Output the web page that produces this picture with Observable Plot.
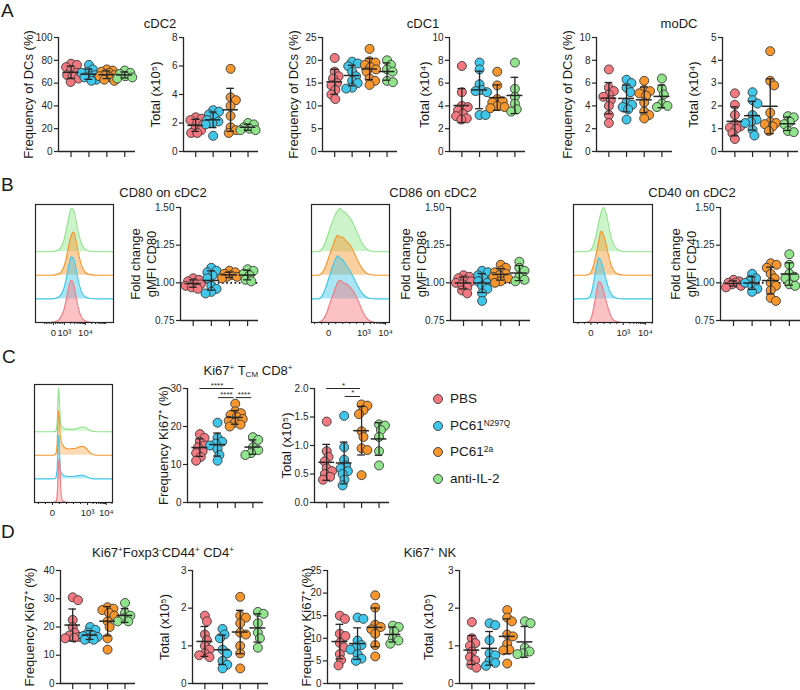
<!DOCTYPE html>
<html><head><meta charset="utf-8">
<script src="https://cdn.jsdelivr.net/npm/d3@7"></script>
<script src="https://cdn.jsdelivr.net/npm/@observablehq/plot@0.6"></script>
<style>
body{margin:0;background:#fff;font-family:Arial,"Liberation Sans",Helvetica,sans-serif;color:#1a1a1a;}
#fig{position:relative;width:800px;height:690px;overflow:hidden;background:#fff;}
.letter{position:absolute;font-size:19px;line-height:1.1;}
.ttl{position:absolute;font-size:13px;line-height:1;transform:translate(-50%,-50%);white-space:nowrap;}
.ttl sup,.leg sup{font-size:62%;vertical-align:0.55em;line-height:0;}
.ttl sub{font-size:62%;vertical-align:-0.3em;line-height:0;}
.leg{position:absolute;font-size:13.5px;line-height:1;white-space:nowrap;transform:translateY(-50%);}
.sw{position:absolute;width:8px;height:8px;border-radius:50%;border:1px solid #444;transform:translate(-50%,-50%);}
</style></head>
<body><div id="fig"></div>
<script>
// ---------- groups ----------
const groups = ["PBS", "PC61N297Q", "PC61 2a", "anti-IL-2"];
const groupColors = ["#f4787f", "#3ec7ea", "#f7962c", "#90e58c"];

// ---------- A: DC subsets ----------
const cdc2Freq = [[77, 76, 74, 71, 69, 67, 66, 64, 61], [76, 72, 70, 69, 67, 66, 65, 63, 62], [72, 71, 70, 69, 68, 67, 66, 65, 63, 62], [71, 69, 68, 66, 65, 64]];
const cdc2Total = [[2.4, 2.3, 2.2, 2.0, 1.9, 1.6, 1.5, 1.3, 1.3], [2.9, 2.8, 2.6, 2.4, 2.2, 2.1, 2.0, 1.9, 1.1], [5.8, 3.8, 3.6, 3.2, 2.5, 1.7, 1.5, 1.3], [2.0, 1.9, 1.7, 1.6, 1.5, 1.5]];
const cdc1Freq = [[20.5, 17.5, 16.5, 16.0, 15.0, 14.5, 13.5, 12.5, 11.5], [19.7, 19.3, 18.7, 17.5, 16.5, 15.5, 15.0, 14.0, 13.8], [22.5, 19.8, 19.5, 19.0, 18.5, 18.0, 17.5, 16.0, 15.5, 14.6], [20.0, 19.0, 18.0, 17.5, 15.5, 15.2]];
const cdc1Total = [[7.5, 5.2, 4.0, 3.9, 3.6, 3.3, 3.1, 2.9, 2.8], [7.8, 7.2, 5.9, 5.4, 5.3, 5.2, 3.2, 3.2], [7.0, 5.8, 4.6, 4.4, 4.3, 4.0, 3.9, 3.8], [7.8, 5.5, 4.8, 4.2, 3.7, 3.5]];
const modcFreq = [[7.2, 5.6, 5.3, 5.0, 4.8, 4.5, 4.0, 3.2, 2.5], [6.3, 6.0, 5.6, 5.2, 4.3, 4.1, 3.9, 3.7, 2.8], [6.2, 5.4, 5.3, 5.1, 4.9, 4.3, 3.5, 3.2, 2.9], [6.4, 5.5, 5.0, 4.2, 4.0, 3.9]];
const modcTotal = [[2.55, 2.05, 1.6, 1.2, 1.1, 1.05, 1.0, 0.8, 0.55], [2.6, 2.25, 2.1, 1.6, 1.4, 1.3, 1.25, 0.95, 0.7], [4.4, 3.1, 2.9, 1.7, 1.3, 1.25, 1.2, 1.1, 0.9], [1.55, 1.5, 1.3, 1.2, 0.9, 0.85]];

// ---------- B: activation markers (fold change gMFI) ----------
const cd80Fold = [[1.03, 1.02, 1.01, 1.00, 0.99, 0.98, 0.97, 0.96], [1.10, 1.08, 1.07, 1.05, 1.03, 0.98, 0.96, 0.94, 0.93], [1.08, 1.07, 1.06, 1.05, 1.04, 1.04, 1.03], [1.09, 1.08, 1.06, 1.05, 1.02, 1.01]];
const cd86Fold = [[1.05, 1.04, 1.03, 1.02, 1.01, 1.00, 0.99, 0.97, 0.95, 0.93], [1.08, 1.07, 1.05, 1.03, 1.01, 1.00, 0.98, 0.96, 0.93, 0.88], [1.12, 1.10, 1.08, 1.07, 1.06, 1.05, 1.04, 1.03, 1.01, 1.00], [1.14, 1.10, 1.08, 1.04, 1.02, 1.01]];
const cd40Fold = [[1.02, 1.01, 1.00, 1.00, 0.99, 0.98, 0.97], [1.06, 1.03, 1.02, 1.00, 0.98, 0.96, 0.94], [1.13, 1.12, 1.10, 1.06, 1.03, 1.00, 0.98, 0.95, 0.90, 0.88], [1.19, 1.12, 1.06, 1.04, 1.03, 0.99, 0.98]];

// ---------- C: Ki67+ TCM CD8+ ----------
const ki67Cd8Freq = [[18, 17, 16, 15, 14.5, 13.5, 13, 12, 11], [21, 17, 16, 15.5, 15, 14, 12.5, 11], [26, 24, 23.5, 23, 22.5, 22, 21.5, 21, 20.5, 20], [17.2, 16.5, 14.5, 13.8, 13, 12.5]];
const ki67Cd8Total = [[1.42, 0.9, 0.8, 0.72, 0.6, 0.55, 0.5, 0.45, 0.4], [1.52, 0.97, 0.75, 0.65, 0.6, 0.55, 0.5, 0.4, 0.3], [1.72, 1.70, 1.62, 1.55, 1.25, 1.15, 0.95, 0.92, 0.48], [1.37, 1.35, 1.27, 1.15, 0.9, 0.65]];
const sigCd8Freq = [{from: 1, to: 3, level: 30, label: "****"}, {from: 2, to: 3, level: 27.6, label: "****"}, {from: 3, to: 4, level: 27.6, label: "****"}];
const sigCd8Total = [{from: 1, to: 3, level: 2.0, label: "*"}, {from: 2, to: 3, level: 1.86, label: "*"}];

// ---------- D: Ki67+ CD4+ and NK ----------
const ki67Cd4Freq = [[30.5, 29.5, 22.5, 20, 18, 17, 16.5, 16.2, 16], [20, 19, 18, 17, 16.8, 16.5, 16, 15.5, 15.5], [27, 26.5, 26, 25, 24, 22, 20, 16, 12], [28.5, 25, 24, 23, 22, 22]];
const ki67Cd4Total = [[1.8, 1.65, 1.3, 1.15, 1.0, 0.9, 0.8, 0.75, 0.7], [1.45, 1.3, 1.2, 0.9, 0.8, 0.6, 0.5, 0.4], [2.3, 1.8, 1.75, 1.6, 1.35, 1.3, 1.0, 0.8, 0.4], [1.9, 1.85, 1.6, 1.35, 1.2, 0.95]];
const ki67NkFreq = [[15, 14.3, 11, 10.5, 9, 8, 6.5, 5.2, 4], [14.6, 14.3, 9.5, 8.5, 8, 7.5, 6.5, 5.5, 5], [19.5, 16.8, 13, 12.5, 12, 11, 8.5, 6], [12.8, 12.5, 11.5, 10, 9.5, 8.8]];
const ki67NkTotal = [[1.63, 1.2, 1.07, 1.0, 0.85, 0.7, 0.62, 0.5, 0.42], [1.6, 1.55, 1.15, 0.8, 0.75, 0.6, 0.55, 0.47], [1.95, 1.75, 1.65, 1.3, 1.25, 1.05, 0.9, 0.88, 0.53], [1.65, 1.6, 0.95, 0.85, 0.8, 0.78]];

// ---------- histograms (channel position 0-100 across the plot; density per group: PBS, N297Q, 2a, anti-IL-2) ----------
const cd80HistX = [0, 20, 28, 33, 37, 40, 43, 46, 49, 52, 55, 59, 64, 70, 80, 100];
const cd80Hist = [
  [0, 0, 0.06, 0.25, 0.6, 1.05, 1.55, 1.79, 1.6, 1.1, 0.6, 0.22, 0.06, 0.01, 0, 0],
  [0, 0, 0.05, 0.2, 0.5, 0.95, 1.45, 1.78, 1.7, 1.25, 0.75, 0.3, 0.08, 0.02, 0, 0],
  [0, 0, 0.04, 0.15, 0.42, 0.8, 1.3, 1.7, 1.83, 1.45, 0.95, 0.42, 0.12, 0.03, 0, 0],
  [0, 0, 0.05, 0.2, 0.55, 1.0, 1.5, 1.84, 1.75, 1.3, 0.8, 0.35, 0.1, 0.02, 0, 0]];
const cd80Ticks = [23, 37, 64];
const cd86HistX = [0, 8, 12, 16, 20, 24, 28, 31, 34, 37, 40, 43, 46, 50, 54, 58, 62, 66, 70, 75, 82, 100];
const cd86Hist = [
  [0, 0, 0.04, 0.18, 0.45, 0.85, 1.2, 1.5, 1.72, 1.79, 1.7, 1.66, 1.6, 1.48, 1.3, 1.05, 0.75, 0.45, 0.22, 0.06, 0, 0],
  [0, 0, 0.06, 0.28, 0.65, 1.05, 1.45, 1.7, 1.83, 1.7, 1.66, 1.5, 1.36, 1.15, 0.9, 0.62, 0.38, 0.2, 0.08, 0.02, 0, 0],
  [0, 0, 0.05, 0.22, 0.55, 0.95, 1.3, 1.58, 1.7, 1.6, 1.62, 1.5, 1.4, 1.25, 1.0, 0.72, 0.45, 0.25, 0.1, 0.03, 0, 0],
  [0, 0, 0.05, 0.25, 0.6, 1.0, 1.35, 1.6, 1.76, 1.84, 1.7, 1.68, 1.55, 1.4, 1.15, 0.85, 0.55, 0.3, 0.13, 0.04, 0, 0]];
const cd86Ticks = [22, 67, 95];
const cd40HistX = [0, 15, 20, 23, 26, 29, 32, 35, 38, 41, 44, 47, 51, 56, 62, 75, 100];
const cd40Hist = [
  [0, 0, 0.05, 0.25, 0.7, 1.25, 1.72, 1.65, 1.35, 0.95, 0.6, 0.3, 0.1, 0.03, 0, 0, 0],
  [0, 0, 0.06, 0.3, 0.8, 1.35, 1.74, 1.6, 1.25, 0.85, 0.5, 0.25, 0.08, 0.02, 0, 0, 0],
  [0, 0, 0.04, 0.18, 0.5, 0.95, 1.45, 1.87, 1.7, 1.35, 0.9, 0.5, 0.2, 0.05, 0.01, 0, 0],
  [0, 0, 0.03, 0.12, 0.35, 0.75, 1.25, 1.65, 1.87, 1.65, 1.2, 0.7, 0.3, 0.08, 0.01, 0, 0]];
const cd40Ticks = [22, 63, 91];
const ki67HistX = [0, 24, 27, 29, 30, 31, 32, 33, 34, 36, 39, 43, 48, 53, 58, 62, 66, 70, 74, 80, 100];
const ki67Hist = [
  [0, 0, 0.02, 0.25, 0.95, 1.6, 1.87, 1.2, 0.4, 0.08, 0.02, 0, 0, 0, 0, 0, 0, 0, 0, 0, 0],
  [0, 0, 0.03, 0.4, 1.35, 1.87, 1.2, 0.5, 0.28, 0.18, 0.12, 0.1, 0.1, 0.12, 0.14, 0.15, 0.1, 0.05, 0.01, 0, 0],
  [0, 0, 0.05, 0.45, 1.4, 1.9, 1.5, 0.9, 0.6, 0.45, 0.32, 0.27, 0.28, 0.3, 0.36, 0.38, 0.3, 0.15, 0.04, 0, 0],
  [0, 0, 0.02, 0.3, 1.2, 1.87, 1.3, 0.55, 0.3, 0.18, 0.12, 0.1, 0.1, 0.12, 0.17, 0.2, 0.17, 0.08, 0.02, 0, 0]];
const ki67Ticks = [23, 68, 92];
const histTickLabels = ["0", "10³", "10⁴"];

// ---------- layout ----------
const fig = document.getElementById("fig");
const FONT = "Arial, 'Liberation Sans', Helvetica, sans-serif";

function place(svg, left, top) {
  svg.style.position = "absolute";
  svg.style.left = left + "px";
  svg.style.top = top + "px";
  fig.appendChild(svg);
}

// compact beeswarm: pixel offsets, dots may overlap a little and stay within +-maxOff
function swarm(vals, pxPerUnit, d, maxOff) {
  const order = vals.map((v, i) => i).sort((a, b) => vals[b] - vals[a]);
  const placed = [], off = new Array(vals.length).fill(0);
  for (const i of order) {
    const y = vals[i] * pxPerUnit;
    const cands = [0];
    for (const p of placed) {
      const dy = y - p.y;
      if (Math.abs(dy) < d) { const dx = Math.sqrt(d * d - dy * dy); cands.push(p.x + dx, p.x - dx); }
    }
    cands.sort((a, b) => Math.abs(a) - Math.abs(b));
    let best = null;
    for (const c of cands) {
      if (Math.abs(c) > maxOff) continue;
      if (placed.every(p => (p.x - c) ** 2 + (p.y - y) ** 2 >= d * d - 0.01)) { best = c; break; }
    }
    if (best === null) {
      // least crowded position within the allowed band
      let bestScore = Infinity;
      for (let c = -maxOff; c <= maxOff; c += 1) {
        const score = d3.min(placed, p => (p.x - c) ** 2 + (p.y - y) ** 2);
        if (-score < bestScore) { bestScore = -score; best = c; }
      }
    }
    placed.push({x: best, y}); off[i] = best;
  }
  return off;
}

function dotPlot(p) {
  const ml = 50, mr = 8, mt = 10, mb = 12;
  const innerW = p.right - p.left, innerH = p.bottom - p.top;
  const xDom = [0.3, 4.6];
  const pxPerX = innerW / (xDom[1] - xDom[0]);
  const pxPerY = innerH / (p.domain[1] - p.domain[0]);
  const pts = [], stats = [];
  p.values.forEach((vals, gi) => {
    const off = swarm(vals, pxPerY, 6, 7.5);
    vals.forEach((v, i) => pts.push({g: gi, x: gi + 1 + off[i] / pxPerX, v}));
    const m = d3.mean(vals), s = d3.deviation(vals);
    stats.push({x: gi + 1, mean: m, lo: m - s, hi: m + s});
  });
  const ink = "#262626";
  const marks = [
    Plot.axisY({ticks: p.ticks, tickSize: 4, tickPadding: 2, tickFormat: p.fmt, label: null, fontSize: 10, strokeWidth: 1.2}),
    Plot.axisX({ticks: [1, 2, 3, 4], tickSize: 6, tickFormat: () => "", label: null, strokeWidth: 1.2}),
    Plot.text([p.label], {frameAnchor: "left", rotate: -90, dx: p.labelDx, fontSize: 13, lineHeight: 1.25, textAnchor: "middle", lineAnchor: "middle", fill: "#1a1a1a"})
  ];
  if (p.ref != null) marks.push(Plot.ruleY([p.ref], {stroke: "#111", strokeWidth: 1.8, strokeDasharray: "1.6,2.6"}));
  groups.forEach((g, gi) => {
    marks.push(Plot.dot(pts.filter(d => d.g === gi), {x: "x", y: "v", r: 4.5, fill: groupColors[gi], stroke: "#3a3a3a", strokeWidth: 0.9}));
  });
  marks.push(
    Plot.ruleX(stats, {x: "x", y1: "lo", y2: "hi", stroke: ink, strokeWidth: 1.3}),
    Plot.ruleY(stats, {y: "hi", x1: d => d.x - 0.22, x2: d => d.x + 0.22, stroke: ink, strokeWidth: 1.3}),
    Plot.ruleY(stats, {y: "lo", x1: d => d.x - 0.22, x2: d => d.x + 0.22, stroke: ink, strokeWidth: 1.3}),
    Plot.ruleY(stats, {y: "mean", x1: d => d.x - 0.45, x2: d => d.x + 0.45, stroke: ink, strokeWidth: 1.5})
  );
  if (p.sig) {
    const s = p.sig.map(c => ({x1: c.from + (c.to - c.from > 1 ? 0 : 0.06), x2: c.to - 0.06, level: c.level, label: c.label}));
    marks.push(
      Plot.ruleY(s, {y: "level", x1: "x1", x2: "x2", stroke: ink, strokeWidth: 1}),
      Plot.text(s, {x: d => (d.x1 + d.x2) / 2, y: "level", text: "label", dy: -1, lineAnchor: "bottom", fontSize: 8, fill: ink})
    );
  }
  marks.push(
    Plot.ruleY([p.domain[0]], {stroke: ink, strokeWidth: 1.3}),
    Plot.ruleX([xDom[0]], {stroke: ink, strokeWidth: 1.3})
  );
  const svg = Plot.plot({
    width: ml + innerW + mr, height: mt + innerH + mb,
    marginLeft: ml, marginRight: mr, marginTop: mt, marginBottom: mb,
    x: {domain: xDom}, y: {domain: p.domain},
    style: {background: "none", fontFamily: FONT, fontSize: "10px", color: "#262626", overflow: "visible"},
    marks
  });
  place(svg, p.left - ml, p.top - mt);
}

function histPlot(h) {
  const ml = 1, mr = 1, mt = 1, mb = 22;
  const w = h.right - h.left, ht = h.bottom - h.top;
  const marks = [];
  for (let gi = 3; gi >= 0; gi--) {
    const rows = h.x.map((x, i) => ({x, base: gi, top: gi + h.dens[gi][i]}));
    marks.push(Plot.areaY(rows, {x: "x", y1: "base", y2: "top", fill: groupColors[gi], fillOpacity: h.fillOpacity, curve: "monotone-x"}));
    marks.push(Plot.lineY(rows, {x: "x", y: "top", stroke: groupColors[gi], strokeWidth: 1.1, curve: "monotone-x"}));
  }
  // minor ticks of the biexponential axis
  const [t0, t1, t2] = h.ticks;
  const minor = [];
  for (let k = 1; k <= 4; k++) minor.push(t0 - k * (t1 - t0) / 5);
  for (let k = 1; k < 5; k++) minor.push(t0 + k * (t1 - t0) / 5);
  for (let k = 2; k <= 9; k++) minor.push(t1 + (t2 - t1) * Math.log10(k));
  for (let k = 2; k <= 9; k++) minor.push(t2 + (t2 - t1) * Math.log10(k));
  const labelOf = new Map(h.ticks.map((t, i) => [t, histTickLabels[i]]));
  marks.push(
    Plot.frame({stroke: "#262626", strokeWidth: 1.2}),
    Plot.axisX({ticks: minor.filter(m => m > 0 && m < 100), tickSize: 2, tickFormat: () => "", label: null}),
    Plot.axisX({ticks: h.ticks, tickSize: 3, tickPadding: 4, tickFormat: d => labelOf.get(d), label: null, fontSize: 9.5})
  );
  const svg = Plot.plot({
    width: ml + w + mr, height: mt + ht + mb,
    marginLeft: ml, marginRight: mr, marginTop: mt, marginBottom: mb,
    x: {domain: [0, 100]}, y: {domain: [0, 5], axis: null},
    style: {background: "none", fontFamily: FONT, fontSize: "10px", color: "#262626", overflow: "visible"},
    marks
  });
  place(svg, h.left - ml, h.top - mt);
}

const intFmt = d => String(d);
const f2 = d3.format(".2f"), f1 = d3.format(".1f");

const dotPanels = [
  {values: cdc2Freq, left: 58, right: 135, top: 37, bottom: 151, domain: [0, 100], ticks: [0, 20, 40, 60, 80, 100], fmt: intFmt, label: "Frequency of DCs (%)", labelDx: -31},
  {values: cdc2Total, left: 183, right: 258, top: 37, bottom: 151, domain: [0, 8], ticks: [0, 2, 4, 6, 8], fmt: intFmt, label: "Total (x10⁵)", labelDx: -29},
  {values: cdc1Freq, left: 322, right: 397, top: 37, bottom: 151, domain: [0, 25], ticks: [0, 5, 10, 15, 20, 25], fmt: intFmt, label: "Frequency of DCs (%)", labelDx: -30},
  {values: cdc1Total, left: 449, right: 525, top: 37, bottom: 151, domain: [0, 10], ticks: [0, 2, 4, 6, 8, 10], fmt: intFmt, label: "Total (x10⁴)", labelDx: -26},
  {values: modcFreq, left: 596, right: 672, top: 37, bottom: 151, domain: [0, 10], ticks: [0, 2, 4, 6, 8, 10], fmt: intFmt, label: "Frequency of DCs (%)", labelDx: -30},
  {values: modcTotal, left: 722, right: 798, top: 37, bottom: 151, domain: [0, 5], ticks: [0, 1, 2, 3, 4, 5], fmt: intFmt, label: "Total (x10⁴)", labelDx: -30},
  {values: cd80Fold, left: 180, right: 258, top: 207, bottom: 320, domain: [0.75, 1.5], ticks: [0.75, 1, 1.25, 1.5], fmt: f2, label: "Fold change\ngMFI CD80", labelDx: -38, ref: 1},
  {values: cd86Fold, left: 450, right: 530, top: 207, bottom: 320, domain: [0.75, 1.5], ticks: [0.75, 1, 1.25, 1.5], fmt: f2, label: "Fold change\ngMFI CD86", labelDx: -38, ref: 1},
  {values: cd40Fold, left: 720, right: 800, top: 207, bottom: 320, domain: [0.75, 1.5], ticks: [0.75, 1, 1.25, 1.5], fmt: f2, label: "Fold change\ngMFI CD40", labelDx: -38, ref: 1},
  {values: ki67Cd8Freq, left: 187, right: 263, top: 388, bottom: 502, domain: [0, 30], ticks: [0, 10, 20, 30], fmt: intFmt, label: "Frequency Ki67⁺ (%)", labelDx: -25, sig: sigCd8Freq},
  {values: ki67Cd8Total, left: 314, right: 389, top: 388, bottom: 502, domain: [0, 2], ticks: [0, 0.5, 1, 1.5, 2], fmt: f1, label: "Total (x10⁵)", labelDx: -29, sig: sigCd8Total},
  {values: ki67Cd4Freq, left: 60, right: 135, top: 570, bottom: 683, domain: [0, 40], ticks: [0, 10, 20, 30, 40], fmt: intFmt, label: "Frequency Ki67⁺ (%)", labelDx: -32},
  {values: ki67Cd4Total, left: 192, right: 268, top: 570, bottom: 683, domain: [0, 3], ticks: [0, 1, 2, 3], fmt: intFmt, label: "Total (x10⁵)", labelDx: -29},
  {values: ki67NkFreq, left: 327, right: 403, top: 570, bottom: 683, domain: [0, 25], ticks: [0, 5, 10, 15, 20, 25], fmt: intFmt, label: "Frequency Ki67⁺ (%)", labelDx: -22},
  {values: ki67NkTotal, left: 459, right: 535, top: 570, bottom: 683, domain: [0, 3], ticks: [0, 1, 2, 3], fmt: intFmt, label: "Total (x10⁵)", labelDx: -32}
];
dotPanels.forEach(dotPlot);

const histPanels = [
  {x: cd80HistX, dens: cd80Hist, ticks: cd80Ticks, left: 35, right: 113, top: 204, bottom: 322, fillOpacity: 0.45},
  {x: cd86HistX, dens: cd86Hist, ticks: cd86Ticks, left: 311, right: 389, top: 204, bottom: 322, fillOpacity: 0.45},
  {x: cd40HistX, dens: cd40Hist, ticks: cd40Ticks, left: 573, right: 652, top: 204, bottom: 322, fillOpacity: 0.45},
  {x: ki67HistX, dens: ki67Hist, ticks: ki67Ticks, left: 34, right: 112, top: 384, bottom: 502, fillOpacity: 0.35}
];
histPanels.forEach(histPlot);

// ---------- text ----------
function addDiv(cls, html, left, top) {
  const d = document.createElement("div");
  d.className = cls; d.innerHTML = html;
  d.style.left = left + "px"; d.style.top = top + "px";
  fig.appendChild(d);
  return d;
}
[["A", 1, 1], ["B", 1, 175], ["C", 2, 347], ["D", 1, 522]].forEach(([t, x, y]) => addDiv("letter", t, x, y));
[
  ["cDC2", 160, 23], ["cDC1", 423, 23], ["moDC", 679, 23],
  ["CD80 on cDC2", 163, 192], ["CD86 on cDC2", 433, 192], ["CD40 on cDC2", 692, 192],
  ["Ki67<sup>+</sup> T<sub>CM</sub> CD8<sup>+</sup>", 248, 370],
  ["Ki67<sup>+</sup>Foxp3<sup>-</sup>CD44<sup>+</sup> CD4<sup>+</sup>", 163, 552],
  ["Ki67<sup>+</sup> NK", 430, 552]
].forEach(([t, x, y]) => addDiv("ttl", t, x, y));

const legendLabels = ["PBS", "PC61<sup>N297Q</sup>", "PC61<sup>2a</sup>", "anti-IL-2"];
const legendY = [399, 426, 452, 479];
legendLabels.forEach((t, i) => {
  const s = addDiv("sw", "", 438, legendY[i]);
  s.style.background = groupColors[i];
  addDiv("leg", t, 450, legendY[i]);
});
</script>
</body></html>
